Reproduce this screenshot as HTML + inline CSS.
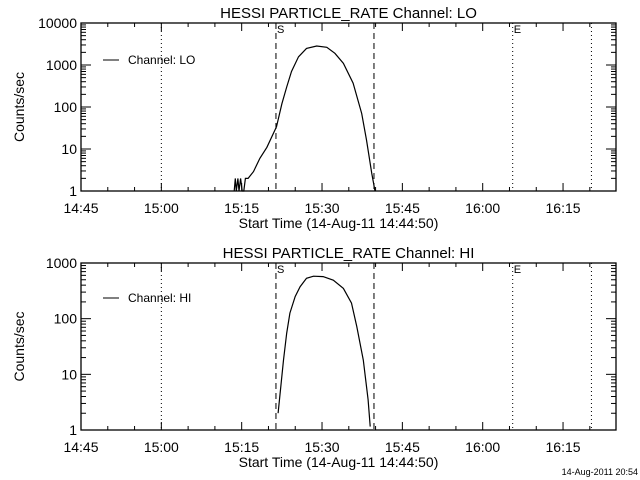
<!DOCTYPE html>
<html><head><meta charset="utf-8"><style>
body{margin:0;background:#fff}
svg{display:block;font-family:"Liberation Sans",sans-serif}
text{fill:#000}
</style></head><body>
<svg id="chart" width="640" height="480" viewBox="0 0 640 480"></svg>
<script>
const xTickLabels=["14:45","15:00","15:15","15:30","15:45","16:00","16:15"];
const xTickMinutes=[0,15,30,45,60,75,90];
const loTimes=[28.6,28.8,29.0,29.3,29.5,29.8,30.1,30.4,30.7,31.2,32.2,33.4,34.7,36.5,37.5,38.4,39.3,40.6,42.1,44.0,45.9,47.4,49.0,50.8,52.4,53.3,54.3,54.9];
const loValues=[1,2,1,2,1,2,1,1,2,2,2.9,6,11,34,120,300,700,1570,2480,2830,2640,1900,1100,370,70,16.4,2.6,1];
const hiTimes=[36.8,37.8,38.4,39.0,40.0,40.9,42.1,43.4,45.2,47.1,49.0,50.5,51.5,52.7,53.6,54.0];
const hiValues=[2.0,18,55,126,250,375,530,580,570,490,350,190,72,18,3.5,1.15];
const dashedMinutes=[36.4,54.7];
const dottedMinutes=[15,80.6,95.3];
const loYTicks=[1,10,100,1000,10000];
const hiYTicks=[1,10,100,1000];

const NS="http://www.w3.org/2000/svg";
const svg=document.getElementById('chart');
function mk(tag,attrs,parent){const e=document.createElementNS(NS,tag);for(const k in attrs)e.setAttribute(k,attrs[k]);(parent||svg).appendChild(e);return e;}
const X0=81,X1=616,PXMIN=5.356;
function xs(m){return X0+m*PXMIN;}

function panel(cfg){
  const g=mk('g',{});
  
  
  const top=cfg.top,bot=cfg.bot,dec=cfg.decades;
  const ys=v=>bot-(Math.log10(v)/dec)*(bot-top);
  const t=mk('text',{x:(X0+X1)/2,y:top-5,'text-anchor':'middle','font-size':15},g);
  t.textContent=cfg.title;
  
  
  const frame=mk('rect',{x:X0,y:top,width:X1-X0,height:bot-top,fill:'none',stroke:'#000','stroke-width':1.3},g);
  
  
  // x ticks
  for(let m=0;m*PXMIN+X0<X1;m+=5){
    const x=xs(m),major=(m%15===0),len=major?8:4;
    mk('line',{x1:x,y1:bot,x2:x,y2:bot-len,stroke:'#000'},g);
    mk('line',{x1:x,y1:top,x2:x,y2:top+len,stroke:'#000'},g);
  }
  xTickMinutes.forEach((m,i)=>{
    const l=mk('text',{x:xs(m),y:bot+22,'text-anchor':'middle','font-size':14},g);
    l.textContent=xTickLabels[i];
    
    
  });
  const xl=mk('text',{x:(X0+X1)/2-10,y:bot+37,'text-anchor':'middle','font-size':14},g);
  xl.textContent='Start Time (14-Aug-11 14:44:50)';
  
  
  // y ticks
  for(let d=0;d<dec;d++){
    for(let k=1;k<=9;k++){
      const y=ys(Math.pow(10,d)*k),len=k===1?10:5;
      mk('line',{x1:X0,y1:y,x2:X0+len,y2:y,stroke:'#000'},g);
      mk('line',{x1:X1,y1:y,x2:X1-len,y2:y,stroke:'#000'},g);
    }
  }
  cfg.yTicks.forEach(v=>{
    const l=mk('text',{x:X0-4,y:ys(v)+5,'text-anchor':'end','font-size':14},g);
    l.textContent=String(v);
    
    
  });
  const yt=mk('text',{x:0,y:0,'text-anchor':'middle','font-size':14,transform:`translate(24,${(top+bot)/2}) rotate(-90)`},g);
  yt.textContent='Counts/sec';
  
  
  // vertical markers
  dashedMinutes.forEach(m=>{
    const l=mk('line',{x1:xs(m),y1:top,x2:xs(m),y2:bot,stroke:'#000','stroke-dasharray':'6,4'},g);
    
    
  });
  dottedMinutes.forEach(m=>{
    const l=mk('line',{x1:xs(m),y1:top,x2:xs(m),y2:bot,stroke:'#000','stroke-dasharray':'1,3'},g);
    
    
  });
  const s=mk('text',{x:xs(dashedMinutes[0])+1,y:top+10,'font-size':11},g);s.textContent='S';
  
  
  const e=mk('text',{x:xs(dottedMinutes[1])+1,y:top+10,'font-size':11},g);e.textContent='E';
  
  
  // series
  const pts=cfg.times.map((m,i)=>xs(m).toFixed(1)+','+ys(cfg.values[i]).toFixed(1)).join(' ');
  const pl=mk('polyline',{points:pts,fill:'none',stroke:'#000','stroke-width':1.2},g);
  
  
  // legend
  const lg=mk('g',{},g);
  
  
  mk('line',{x1:103,y1:cfg.legY,x2:119,y2:cfg.legY,stroke:'#000'},lg);
  const lt=mk('text',{x:128,y:cfg.legY+4,'font-size':12},lg);lt.textContent=cfg.legend;
}
panel({name:'lo-channel-panel',title:'HESSI PARTICLE_RATE Channel: LO',top:23,bot:191,decades:4,yTicks:loYTicks,times:loTimes,values:loValues,seriesName:'lo-rate-line',legend:'Channel: LO',legY:60});
panel({name:'hi-channel-panel',title:'HESSI PARTICLE_RATE Channel: HI',top:263,bot:430,decades:3,yTicks:hiYTicks,times:hiTimes,values:hiValues,seriesName:'hi-rate-line',legend:'Channel: HI',legY:298});
const ft=mk('text',{x:638,y:475,'text-anchor':'end','font-size':9});
ft.textContent='14-Aug-2011 20:54';


</script>
</body></html>
